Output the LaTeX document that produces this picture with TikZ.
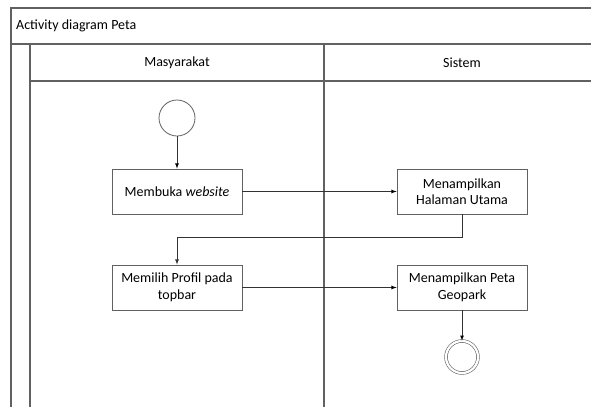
\documentclass[tikz,border=0pt]{standalone}
\usepackage{fontspec}
\setmainfont{Carlito}
\usetikzlibrary{arrows}

\begin{document}
\begin{tikzpicture}[x=1pt, y=-1pt, >=latex,
    lane/.style={draw=black!62, line width=1.1pt},
    act/.style={draw=black!62, line width=0.8pt, minimum width=130pt, minimum height=45pt,
        inner sep=1pt, align=center, font=\fontsize{14}{16.5}\selectfont},
    flow/.style={->, draw=black!80, line width=0.8pt},
    label/.style={font=\fontsize{14}{16.5}\selectfont, inner sep=0pt}]
			\useasboundingbox (0,0) rectangle (591,407);
			% frame and swimlanes
			\draw[lane] (591,8) -- (11,8) -- (11,407);
			\draw[lane] (11,44) -- (591,44);
			\draw[lane] (30,44) -- (30,407);
			\draw[lane] (30,81) -- (591,81);
			\draw[lane] (324,44) -- (324,407);
			\node[label, anchor=west] (judul) at (16,26) {Activity diagram Peta};
			\node[label] (masyarakat) at (177,63) {Masyarakat};
			\node[label] (sistem) at (462,63) {Sistem};
			% activities
			\node[draw=black!62, line width=0.8pt, circle, minimum size=36pt] (mulai) at (177,118) {};
			\node[act] (website) at (177,191.5) {Membuka \emph{website}};
			\node[act] (utama) at (462,191.5) {Menampilkan\\Halaman Utama};
			\node[act] (profil) at (177,287.5) {Memilih Profil pada\\topbar};
			\node[act] (peta) at (462,287.5) {Menampilkan Peta\\Geopark};
			\node[draw=black!62, line width=0.6pt, double, double distance=2.2pt, circle, minimum size=32pt] (selesai) at (462,357) {};
			\coordinate (belok) at (177,237);
			\path[flow]
			(mulai) edge (website)
			(website) edge (utama)
			(profil) edge (peta)
			(peta) edge (selesai);
			\draw[flow] (utama.south) |- (belok) -- (profil.north);
		\end{tikzpicture}
\end{document}
